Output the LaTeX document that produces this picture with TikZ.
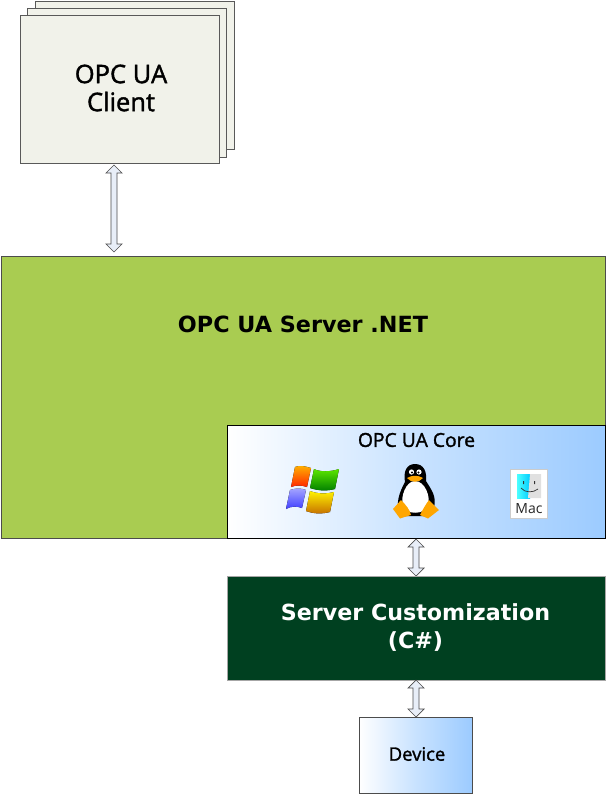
\documentclass[tikz,border=0pt]{standalone}
\usepackage{fontspec}
\setmainfont{DejaVu Sans}
\newfontfamily\tah[FakeBold=1.5]{Open Sans}
\newfontfamily\macf{Open Sans}
\definecolor{cli}{HTML}{F1F2EA}
\definecolor{grn}{HTML}{A9CC51}
\definecolor{dgr}{HTML}{004020}
\definecolor{sky}{HTML}{9CCBFF}
\definecolor{arw}{HTML}{E8EEF8}
\tikzset{
 x=1pt,y=-1pt,
 clibox/.style={draw=black!65,line width=.9pt,fill=cli},
 dbl/.style={draw=black!70,line width=.7pt,fill=arw},
 lab/.style={align=center,inner sep=0pt},
 grad/.style={left color=white,right color=sky,middle color=white!45!sky}
}
\newcommand{\dblarrow}[3]{% x, y-top, y-bottom
 \draw[dbl] (#1,#2) -- (#1+8,#2+8) -- (#1+3,#2+8) -- (#1+3,#3-8) -- (#1+8,#3-8) -- (#1,#3) -- (#1-8,#3-8) -- (#1-3,#3-8) -- (#1-3,#2+8) -- (#1-8,#2+8) -- cycle;}
\begin{document}
\begin{tikzpicture}
\useasboundingbox (0,0) rectangle (606,795);
\fill[white] (0,0) rectangle (606,795);
\draw[clibox] (35.5,1.5) rectangle (234.5,149.5);
\draw[clibox] (27.5,8.5) rectangle (226.5,157);
\draw[clibox] (20,15) rectangle (219,163);
\node[lab,font=\tah\fontsize{25.5}{28}\selectfont] (client) at (121,88) {OPC UA\\Client};
\dblarrow{114}{165}{252}
\draw[draw=black!70,line width=1pt,fill=grn] (1,256) rectangle (605,538);
\node[lab,font=\bfseries\fontsize{22.3}{26}\selectfont] (server) at (303,324) {OPC UA Server .NET};
\draw[draw=black,line width=1pt,grad] (227,425.5) rectangle (605,538);
\node[lab,font=\tah\fontsize{19.3}{23}\selectfont] (core) at (416.5,440) {OPC UA Core};
% Windows
\begin{scope}[shift={(286,466)}]
\fill[top color=orange!60!yellow,bottom color=red!70!orange] (9,1) .. controls (14,-1) and (18,0) .. (25,2) -- (21,21) .. controls (15,19) and (10,19) .. (5,21) -- cycle;
\fill[top color=green!60!yellow!90!black,bottom color=green!50!black] (28,3) .. controls (34,6) and (44,6) .. (53,3) -- (49,23) .. controls (41,25) and (33,25) .. (24,22) -- cycle;
\fill[top color=blue!35!white,bottom color=blue!75!white] (4,24) .. controls (10,22) and (15,22) .. (20,24) -- (16,42) .. controls (11,40) and (5,40) .. (0,43) -- cycle;
\fill[top color=yellow!90!orange,bottom color=orange!75!black!90!yellow] (24,25) .. controls (32,28) and (40,28) .. (48,26) -- (44,46) .. controls (36,48) and (28,48) .. (20,45) -- cycle;
\end{scope}
% Tux
\begin{scope}[shift={(392,463)}]
\fill[black] (23,1) .. controls (32,1) and (35,9) .. (34,18) .. controls (39,26) and (45,34) .. (42,44) -- (37,53) -- (9,53) .. controls (2,42) and (8,28) .. (13,19) .. controls (11,8) and (15,1) .. (23,1) -- cycle;
\fill[white] (23,18) .. controls (33,18) and (39,34) .. (36,43) .. controls (32,52) and (14,52) .. (11,43) .. controls (8,34) and (14,18) .. (23,18) -- cycle;
\fill[white] (19.5,9) circle (2.6) (27,9) circle (2.6);
\fill[black] (20,9.5) circle (1.2) (26.5,9.5) circle (1.2);
\fill[orange!70!yellow] (15,15) .. controls (20,12) and (26,12) .. (31,15) .. controls (27,20) and (19,20) .. (15,15) -- cycle;
\fill[orange!70!yellow] (1,46) -- (9,37) .. controls (14,42) and (18,47) .. (19,52) -- (8,55.5) -- cycle;
\fill[orange!70!yellow] (28,52) .. controls (31,46) and (34,41) .. (37,37) -- (47,47) -- (36,55.5) -- cycle;
\end{scope}
% Mac
\begin{scope}[shift={(510,469)}]
\draw[draw=black!20,fill=white,line width=.8pt] (0,0) rectangle (37,49);
\fill[left color=cyan!70,right color=blue!20!cyan] (7,5) rectangle (20,29);
\fill[black!12] (20,5) -- (31,5) -- (31,29) -- (18,29) -- cycle;
\draw[black!80,line width=.7pt] (11,19) .. controls (15,24) and (23,24) .. (28,20);
\fill[black!80] (13,12) rectangle (14,15) (24,12) rectangle (25,15);
\node[lab,text=black!85,font=\macf\fontsize{14}{16}\selectfont] (mac) at (19,39.5) {Mac};
\end{scope}
\dblarrow{416}{539}{576}
\draw[draw=black!35,line width=1pt,fill=dgr] (227,576) rectangle (605,680);
\node[lab,text=white,font=\bfseries\fontsize{22.2}{28}\selectfont] (cust) at (415.5,628) {Server Customization\\(C\#)};
\dblarrow{416}{680}{717}
\draw[draw=black!70,line width=1pt,grad] (359,717.5) rectangle (472,793);
\node[lab,font=\tah\fontsize{18.5}{20}\selectfont] (dev) at (417,754) {Device};
\end{tikzpicture}
\end{document}
